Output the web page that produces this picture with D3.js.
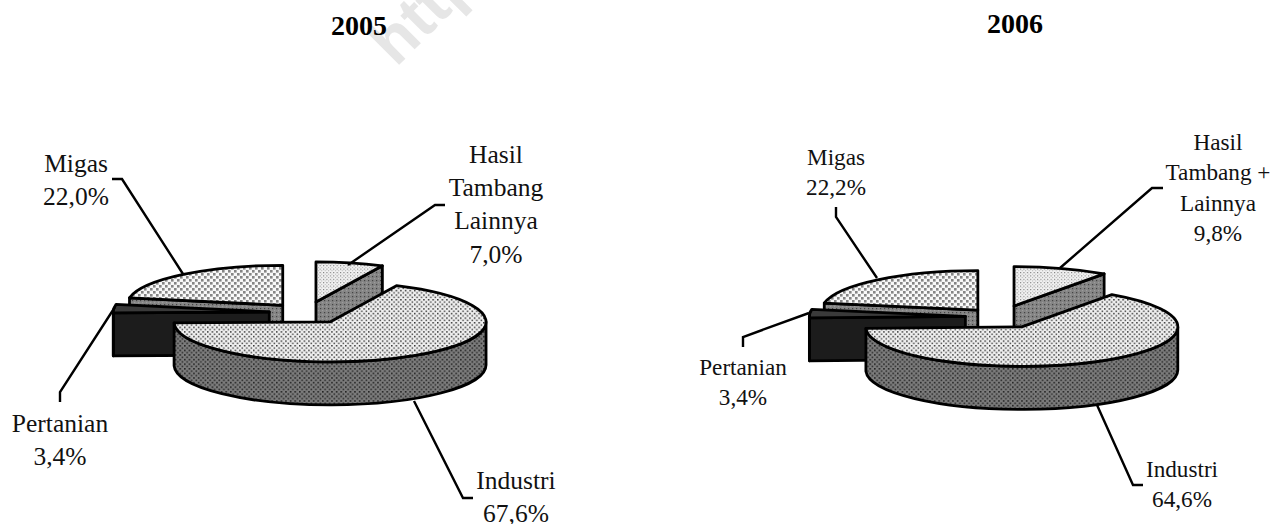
<!DOCTYPE html>
<html>
<head>
<meta charset="utf-8">
<script src="https://cdnjs.cloudflare.com/ajax/libs/d3/7.9.0/d3.min.js"></script>
<style>
html,body{margin:0;padding:0;background:#fff;overflow:hidden}
svg{display:block}
text{font-family:"Liberation Serif","Times New Roman",serif;fill:#111}
</style>
</head>
<body>
<svg id="c" width="1285" height="524"></svg>
<script>
// ---------- data ----------
const categories = ["Hasil Tambang Lainnya","Industri","Pertanian","Migas"];
const years = ["2005","2006"];
const values2005 = [7.0,67.6,3.4,22.0];
const values2006 = [9.8,64.6,3.4,22.2];
const labels2005 = [["Hasil","Tambang","Lainnya","7,0%"],["Industri","67,6%"],["Pertanian","3,4%"],["Migas","22,0%"]];
const labels2006 = [["Hasil","Tambang +","Lainnya","9,8%"],["Industri","64,6%"],["Pertanian","3,4%"],["Migas","22,2%"]];

// ---------- layout (not data) ----------
const layouts = [
 {cx:306.6,cy:312.7,rx:156,ry:40,depth:43,explode:[.275,.275,.24,.24],font:25.5,lh:33.2,titleX:359,titleY:35,titleFont:28,
  label:[[496,163],[516,489],[60,432],[76,172]],
  leader:[[[445,205],[435,205],[348,265]],[[414,401],[463,498],[473,498]],[[60,402],[60,392],[115,307]],[[112,179],[122,179],[183,274]]]},
 {cx:1000.4,cy:316.9,rx:156,ry:39.5,depth:43,explode:[.288,.288,.225,.225],font:23.2,lh:30.4,titleX:1015,titleY:33,titleFont:28,
  label:[[1218,150],[1182,477],[743,375],[836,165]],
  leader:[[[1163,188],[1152,188],[1060,268]],[[1097,405],[1133,485],[1143,485]],[[743,347],[743,337],[809,313]],[[836,207],[836,217],[877,278]]]}
];
const topFill  = ["url(#pDots)","url(#pTop)","#3a3a3a","url(#pCheck)"];
const sideFill = ["url(#pSideA)","url(#pSideB)","#1c1c1c","url(#pSideA)"];
const drawOrder = [3,0,2,1];

const svg = d3.select("#c");
const defs = svg.append("defs");
function pattern(id,size,bg,marks){
  const p = defs.append("pattern").attr("id",id).attr("width",size).attr("height",size).attr("patternUnits","userSpaceOnUse");
  p.append("rect").attr("width",size).attr("height",size).attr("fill",bg);
  marks.forEach(m=>p.append("rect").attr("x",m[0]).attr("y",m[1]).attr("width",m[2]).attr("height",m[2]).attr("fill",m[3]));
}
pattern("pCheck",6,"#f8f8f8",[[0,0,2.6,"#858585"],[3,3,2.6,"#858585"]]);
pattern("pDots",3.4,"#f2f2f2",[[0,0,1.1,"#777"],[1.7,1.7,1,"#aaa"]]);
pattern("pTop",4.6,"#f0f0f0",[[0,0,1.5,"#333"],[2.3,2.3,1.5,"#444"]]);
pattern("pSideA",4,"#858585",[[0,0,1.2,"#444"],[2,2,1.2,"#9c9c9c"]]);
pattern("pSideB",4.6,"#7c7c7c",[[0,0,1.6,"#222"],[2.3,2.3,1.6,"#2a2a2a"]]);

// watermark
svg.append("text").attr("transform","translate(396,68) rotate(-45)")
  .style("font-family","'Liberation Sans'").style("font-weight","bold").style("font-size","64px").style("fill","#e6e6e6").text("http");

const pie = d3.pie().sort(null).startAngle(0).endAngle(2*Math.PI);

function drawPanel(values,labels,year,L){
  const g = svg.append("g");
  const arcs = pie(values);
  const pts = (c,a,dy=0)=>[c[0]+L.rx*Math.sin(a), c[1]-L.ry*Math.cos(a)+dy];
  const centre = arcs.map((d,i)=>{
    const m=(d.startAngle+d.endAngle)/2, e=L.explode[i];
    return [L.cx+e*L.rx*Math.sin(m), L.cy-e*L.ry*Math.cos(m)];
  });
  const ell = (p,large,sweep)=>`A${L.rx} ${L.ry} 0 ${large} ${sweep} ${p[0]} ${p[1]}`;
  function wall(c,a){
    const p=pts(c,a), q=pts(c,a,L.depth);
    return `M${c}L${p}L${q}L${c[0]},${c[1]+L.depth}Z`;
  }
  drawOrder.forEach(i=>{
    const d=arcs[i], c=centre[i], a0=d.startAngle, a1=d.endAngle;
    const slice=g.append("g").attr("stroke","#000").attr("stroke-width",2.8).attr("stroke-linejoin","round");
    // radial walls facing the viewer
    if(Math.sin(a0)<0) slice.append("path").attr("d",wall(c,a0)).attr("fill",sideFill[i]);
    if(Math.sin(a1)>1e-6) slice.append("path").attr("d",wall(c,a1)).attr("fill",sideFill[i]);
    // outer wall on the front half
    const b0=Math.max(a0,Math.PI/2), b1=Math.min(a1,3*Math.PI/2);
    if(b1>b0){
      const lg=(b1-b0)>Math.PI?1:0;
      slice.append("path").attr("fill",sideFill[i])
        .attr("d",`M${pts(c,b0)}${ell(pts(c,b1),lg,1)}L${pts(c,b1,L.depth)}${ell(pts(c,b0,L.depth),lg,0)}Z`);
    }
    // top face
    slice.append("path").attr("fill",topFill[i])
      .attr("d",`M${c}L${pts(c,a0)}${ell(pts(c,a1),(a1-a0)>Math.PI?1:0,1)}Z`);
  });
  // leaders
  L.leader.forEach(l=>g.append("path").attr("d",d3.line()(l)).attr("fill","none").attr("stroke","#000").attr("stroke-width",2.4));
  // labels
  labels.forEach((lines,i)=>{
    lines.forEach((t,j)=>g.append("text").attr("x",L.label[i][0]).attr("y",L.label[i][1]+j*L.lh)
      .attr("text-anchor","middle").style("font-size",L.font+"px").text(t));
  });
  g.append("text").attr("x",L.titleX).attr("y",L.titleY).attr("text-anchor","middle")
    .style("font-size",L.titleFont+"px").style("font-weight","bold").style("fill","#000").text(year);
}
drawPanel(values2005,labels2005,years[0],layouts[0]);
drawPanel(values2006,labels2006,years[1],layouts[1]);
</script>
</body>
</html>
